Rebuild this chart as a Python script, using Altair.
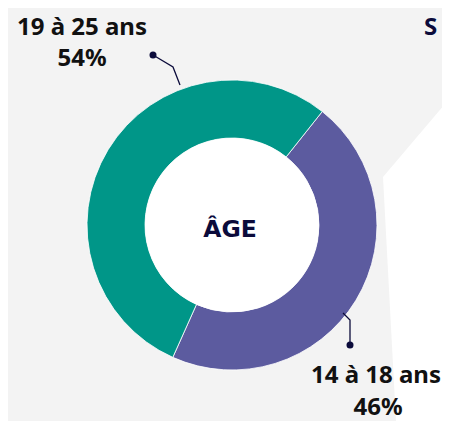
import altair as alt
import pandas as pd
import math

# --- data ---
categories = ["14 à 18 ans", "19 à 25 ans"]
shares = [46, 54]
colors = ["#5c5b9f", "#009688"]
label_pct = ["46%", "54%"]
center_title = "ÂGE"
corner_text = "S"

# decoration geometry (pixel space)
bg_poly_y = [90, 169, 413]
bg_poly_x = [442, 375, 388]
leader_top_x = [145, 165, 172]
leader_top_y = [47, 59, 77]
leader_bot_x = [335, 342, 342]
leader_bot_y = [305, 312, 337]

CX, CY = 224, 217
R_OUT, R_IN = 145, 87
START = math.radians(38.5)

W, H = 434, 413

df = pd.DataFrame({"cat": categories, "share": shares, "ord": [0, 1]})

poly_df = pd.DataFrame({"y": bg_poly_y, "x": bg_poly_x, "x2": [W + 20] * 3})
poly = alt.Chart(poly_df).mark_area(color="#ffffff", orient="horizontal").encode(
    y=alt.Y("y:Q", scale=None),
    x=alt.X("x:Q", scale=None),
    x2="x2:Q",
)

donut = alt.Chart(df).mark_arc(
    outerRadius=R_OUT, innerRadius=R_IN, stroke="#ffffff", strokeWidth=0.8
).encode(
    theta=alt.Theta("share:Q", stack=True,
                    scale=alt.Scale(range=[START, START + 2 * math.pi])),
    color=alt.Color("cat:N", scale=alt.Scale(domain=categories, range=colors),
                    legend=None),
    order=alt.Order("ord:Q"),
    x=alt.value(CX),
    y=alt.value(CY),
)

hole = alt.Chart(pd.DataFrame({"a": [1]})).mark_circle(
    size=(2 * R_IN) ** 2, color="#ffffff", opacity=1
).encode(x=alt.value(CX), y=alt.value(CY))

lt = pd.DataFrame({"x": leader_top_x, "y": leader_top_y, "i": [0, 1, 2]})
lb = pd.DataFrame({"x": leader_bot_x, "y": leader_bot_y, "i": [0, 1, 2]})

def leader(d, dot_idx):
    line = alt.Chart(d).mark_line(color="#0b0b3b", strokeWidth=1.3).encode(
        x=alt.X("x:Q", scale=None), y=alt.Y("y:Q", scale=None), order="i:Q")
    dot = alt.Chart(d.iloc[[dot_idx]]).mark_circle(color="#0b0b3b", size=49, opacity=1).encode(
        x=alt.X("x:Q", scale=None), y=alt.Y("y:Q", scale=None))
    return line + dot

labels_df = pd.DataFrame({
    "t": [categories[1], label_pct[1], categories[0], label_pct[0]],
    "x": [74, 74, 368, 370],
    "y": [27, 58, 375, 407],
})
labels = alt.Chart(labels_df).mark_text(
    font="Noto Sans", fontSize=24, fontWeight="bold", color="#111111",
    align="center", baseline="alphabetic"
).encode(x=alt.X("x:Q", scale=None), y=alt.Y("y:Q", scale=None), text="t:N")

title = alt.Chart(pd.DataFrame({"t": [center_title]})).mark_text(
    font="DejaVu Sans", fontSize=23.5, fontWeight="bold", color="#0b0b3b",
    align="center", baseline="alphabetic"
).encode(x=alt.value(222), y=alt.value(229), text="t:N")

s_txt = alt.Chart(pd.DataFrame({"t": [corner_text]})).mark_text(
    font="Noto Sans", fontSize=24, fontWeight="bold", color="#0b0b3b",
    align="left", baseline="alphabetic"
).encode(x=alt.value(416), y=alt.value(27), text="t:N")

chart = alt.layer(
    poly, donut, hole, leader(lt, 0), leader(lb, 2), labels, title, s_txt
).properties(
    width=W, height=H, padding=0, autosize=alt.AutoSizeParams(type="none"),
    background="#f3f3f3"
).configure_view(stroke=None)

chart.save("out.html", embed_options={"renderer": "svg", "actions": False})
